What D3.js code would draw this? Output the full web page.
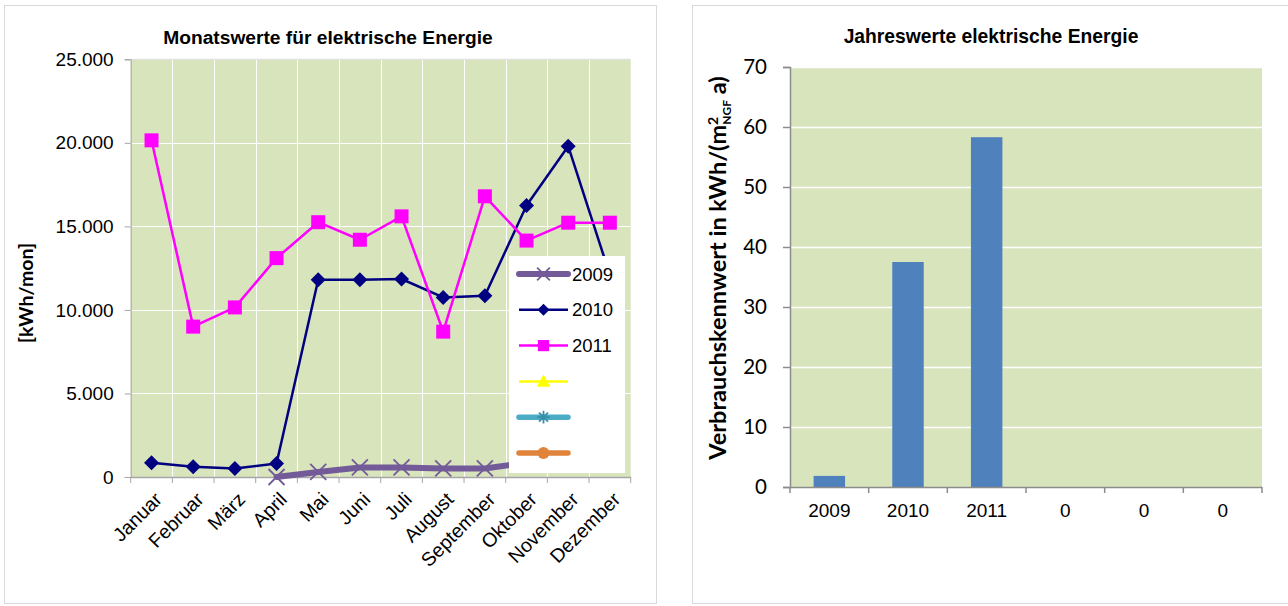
<!DOCTYPE html>
<html>
<head>
<meta charset="utf-8">
<script src="https://cdn.jsdelivr.net/npm/d3@7"></script>
<style>
  body { margin: 0; background: #fff; }
  svg { display: block; }
</style>
</head>
<body>
<svg id="chart" width="1288" height="606"></svg>
<script>
// ---- monthly values (kWh per month) ----
const months = ["Januar", "Februar", "März", "April", "Mai", "Juni", "Juli",
                "August", "September", "Oktober", "November", "Dezember"];
const values2009 = [null, null, null, 0, 305, 570, 570, 510, 510, 850, 1000, 1000];
const values2010 = [850, 610, 510, 810, 11800, 11800, 11850, 10750, 10850, 16250, 19800, 12100];
const values2011 = [20150, 9000, 10150, 13100, 15250, 14200, 15600, 8700, 16800, 14150, 15220, 15220];
const monthTicks = [0, 5000, 10000, 15000, 20000, 25000];
const legendNames = ["2009", "2010", "2011", "", "", ""];

// ---- yearly index values (kWh per m² NGF and year) ----
const yearLabels = ["2009", "2010", "2011", "0", "0", "0"];
const yearValues = [1.85, 37.5, 58.3, 0, 0, 0];
const yearTicks = [0, 10, 20, 30, 40, 50, 60, 70];

const svg = d3.select("#chart");
const PLOT_BG = "#d8e4bc";
const AXIS_GREY = "#a6a6a6";
const ARIAL = "'Liberation Sans', Arial, sans-serif";
const CALIBRI = "Lato, 'Open Sans', sans-serif";

const de = d3.formatLocale({ decimal: ",", thousands: ".", grouping: [3], currency: ["", " €"] });
const fmtThousands = de.format(",.0f");

// chart frames
svg.append("rect").attr("x", 4.5).attr("y", 5.5).attr("width", 652).attr("height", 598)
  .attr("fill", "#fff").attr("stroke", "#d9d9d9");
svg.append("rect").attr("x", 692.5).attr("y", 5.5).attr("width", 600).attr("height", 598)
  .attr("fill", "#fff").attr("stroke", "#d9d9d9");

// ================= monthly line chart =================
const L = { left: 130.7, right: 630.7, top: 59.3, bottom: 477 };
const xL = d3.scaleBand().domain(months).range([L.left, L.right]).padding(0);
const yL = d3.scaleLinear().domain([0, 25000]).range([L.bottom, L.top]);
const cx = m => xL(m) + xL.bandwidth() / 2;

const gL = svg.append("g");
gL.append("rect").attr("x", L.left).attr("y", L.top)
  .attr("width", L.right - L.left).attr("height", L.bottom - L.top).attr("fill", PLOT_BG);

// white grid
gL.selectAll("line.hgrid").data(monthTicks.slice(1)).join("line")
  .attr("x1", L.left).attr("x2", L.right)
  .attr("y1", d => Math.round(yL(d)) + 0.5).attr("y2", d => Math.round(yL(d)) + 0.5)
  .attr("stroke", "#fff").attr("stroke-width", 1);
gL.selectAll("line.vgrid").data(months.slice(1)).join("line")
  .attr("x1", d => Math.round(xL(d)) + 0.5).attr("x2", d => Math.round(xL(d)) + 0.5)
  .attr("y1", L.top).attr("y2", L.bottom)
  .attr("stroke", "#fff").attr("stroke-width", 1);
gL.append("line").attr("x1", L.left).attr("x2", L.right).attr("y1", L.top).attr("y2", L.top)
  .attr("stroke", "#d9d9d9");

// y axis
const axL = gL.append("g").attr("transform", `translate(${L.left},0)`)
  .call(d3.axisLeft(yL).tickValues(monthTicks).tickSize(6).tickPadding(11).tickFormat(fmtThousands));
axL.select(".domain").attr("stroke", AXIS_GREY);
axL.selectAll(".tick line").attr("stroke", AXIS_GREY);
axL.selectAll(".tick text").attr("font-family", ARIAL).attr("font-size", 19).attr("fill", "#000");

// x axis: ticks between categories
const boundaries = months.map(m => xL(m)).concat([L.right]);
gL.append("line").attr("x1", L.left).attr("x2", L.right)
  .attr("y1", L.bottom + 0.5).attr("y2", L.bottom + 0.5).attr("stroke", AXIS_GREY).attr("stroke-width", 1.5);
gL.selectAll("line.xtick").data(boundaries).join("line")
  .attr("x1", d => d).attr("x2", d => d)
  .attr("y1", L.bottom).attr("y2", L.bottom + 6).attr("stroke", AXIS_GREY);
gL.selectAll("text.xlab").data(months).join("text")
  .attr("transform", d => `translate(${cx(d) + 2},${L.bottom + 14}) rotate(-45)`)
  .attr("text-anchor", "end").attr("dy", "0.7em")
  .attr("font-family", ARIAL).attr("font-size", 19.5).attr("fill", "#000")
  .text(d => d);

// y axis title
gL.append("text")
  .attr("transform", `translate(33,293) rotate(-90)`)
  .attr("text-anchor", "middle")
  .attr("font-family", CALIBRI).attr("font-weight", "bold").attr("font-size", 19.5).attr("fill", "#000")
  .text("[kWh/mon]");

// title
svg.append("text").attr("x", 328).attr("y", 44).attr("text-anchor", "middle")
  .attr("font-family", ARIAL).attr("font-weight", "bold").attr("font-size", 19.2)
  .text("Monatswerte für elektrische Energie");

// marker shapes
const markers = {
  cross: s => `M${-s},${-s}L${s},${s}M${-s},${s}L${s},${-s}`,
  diamond: s => `M0,${-s}L${s},0L0,${s}L${-s},0Z`,
  square: s => `M${-s},${-s}H${s}V${s}H${-s}Z`,
  triangle: s => `M0,${-s}L${s},${s * 0.8}L${-s},${s * 0.8}Z`,
  star: s => `M${-s},0H${s}M${-s * 0.7},${-s * 0.7}L${s * 0.7},${s * 0.7}M${-s * 0.7},${s * 0.7}L${s * 0.7},${-s * 0.7}M0,${-s}V${s}`,
  circle: s => `M${-s},0A${s},${s} 0 1,0 ${s},0A${s},${s} 0 1,0 ${-s},0Z`
};

const series = [
  { name: legendNames[0], values: values2009, color: "#735a98", width: 6, marker: "cross", size: 8, fillMarker: false, markerWidth: 1.8 },
  { name: legendNames[1], values: values2010, color: "#000080", width: 2.5, marker: "diamond", size: 7.5, fillMarker: true },
  { name: legendNames[2], values: values2011, color: "#ff00ff", width: 2.5, marker: "square", size: 7, fillMarker: true },
  { name: legendNames[3], values: null, color: "#ffff00", width: 2.5, marker: "triangle", size: 8.5, fillMarker: true },
  { name: legendNames[4], values: null, color: "#4bacc6", width: 5.5, marker: "star", size: 8, fillMarker: false, markerColor: "#3a8fa8", markerWidth: 1.8 },
  { name: legendNames[5], values: null, color: "#e0843c", width: 5.5, marker: "circle", size: 7.5, fillMarker: true }
];

const line = d3.line()
  .defined(d => d.v !== null)
  .x(d => cx(d.m)).y(d => yL(d.v));

series.filter(s => s.values).forEach(s => {
  const pts = months.map((m, i) => ({ m, v: s.values[i] }));
  gL.append("path").datum(pts)
    .attr("d", line).attr("fill", "none")
    .attr("stroke", s.color).attr("stroke-width", s.width)
    .attr("stroke-linejoin", "round").attr("stroke-linecap", "round");
  gL.selectAll(null).data(pts.filter(p => p.v !== null)).join("path")
    .attr("transform", p => `translate(${cx(p.m)},${yL(p.v)})`)
    .attr("d", markers[s.marker](s.size))
    .attr("fill", s.fillMarker ? (s.markerColor || s.color) : "none")
    .attr("stroke", s.markerColor || s.color)
    .attr("stroke-width", s.fillMarker ? 0 : s.markerWidth);
});

// legend
const lg = gL.append("g");
lg.append("rect").attr("x", 509).attr("y", 256).attr("width", 116).attr("height", 217).attr("fill", "#fff");
series.forEach((s, i) => {
  const y = 274 + i * 35.8;
  lg.append("line").attr("x1", 519).attr("x2", 568).attr("y1", y).attr("y2", y)
    .attr("stroke", s.color).attr("stroke-width", s.width)
    .attr("stroke-linecap", s.width > 3 ? "round" : "butt");
  lg.append("path").attr("transform", `translate(543.5,${y})`)
    .attr("d", markers[s.marker](s.size * 0.8))
    .attr("fill", s.fillMarker ? (s.markerColor || s.color) : "none")
    .attr("stroke", s.markerColor || s.color)
    .attr("stroke-width", s.fillMarker ? 0 : (s.markerWidth || 1.5));
  lg.append("text").attr("x", 572).attr("y", y).attr("dy", "0.36em")
    .attr("font-family", ARIAL).attr("font-size", 18.5).attr("fill", "#000")
    .text(s.name);
});

// ================= yearly bar chart =================
const R = { left: 790, right: 1262, top: 67, bottom: 487 };
const xR = d3.scaleBand().domain(d3.range(yearLabels.length)).range([R.left, R.right]).padding(0);
const yR = d3.scaleLinear().domain([0, 70]).range([R.bottom, R.top]);
const gR = svg.append("g");

gR.append("rect").attr("x", R.left).attr("y", R.top)
  .attr("width", R.right - R.left).attr("height", R.bottom - R.top).attr("fill", PLOT_BG);
gR.selectAll("line.hgrid").data(yearTicks.slice(1)).join("line")
  .attr("x1", R.left).attr("x2", R.right)
  .attr("y1", d => Math.round(yR(d)) + 0.5).attr("y2", d => Math.round(yR(d)) + 0.5)
  .attr("stroke", "#fff").attr("stroke-width", 1.5);

// bars
const barW = xR.bandwidth() * 0.4;
gR.selectAll("rect.bar").data(yearValues).join("rect")
  .attr("x", (d, i) => xR(i) + (xR.bandwidth() - barW) / 2)
  .attr("y", d => yR(d))
  .attr("width", barW)
  .attr("height", d => yR(0) - yR(d))
  .attr("fill", "#4f81bd");

// y axis
const axR = gR.append("g").attr("transform", `translate(${R.left},0)`)
  .call(d3.axisLeft(yR).tickValues(yearTicks).tickSize(7).tickPadding(16));
axR.select(".domain").attr("stroke", "#8c8c8c").attr("stroke-width", 1.5);
axR.selectAll(".tick line").attr("stroke", "#8c8c8c").attr("stroke-width", 1.5);
axR.selectAll(".tick text").attr("font-family", CALIBRI).attr("font-size", 20.5).attr("fill", "#000");

// x axis
gR.append("line").attr("x1", R.left).attr("x2", R.right)
  .attr("y1", R.bottom + 0.5).attr("y2", R.bottom + 0.5).attr("stroke", "#8c8c8c").attr("stroke-width", 1.5);
gR.selectAll("line.xtick").data(d3.range(yearLabels.length + 1)).join("line")
  .attr("x1", i => R.left + i * xR.step()).attr("x2", i => R.left + i * xR.step())
  .attr("y1", R.bottom).attr("y2", R.bottom + 6).attr("stroke", "#8c8c8c").attr("stroke-width", 1.5);
gR.selectAll("text.xlab").data(yearLabels).join("text")
  .attr("x", (d, i) => xR(i) + xR.bandwidth() / 2).attr("y", 517)
  .attr("text-anchor", "middle")
  .attr("font-family", ARIAL).attr("font-size", 19).attr("fill", "#000")
  .text(d => d);

// y axis title with stacked superscript and subscript
const yt = gR.append("text")
  .attr("transform", "translate(726,268) rotate(-90)")
  .attr("text-anchor", "middle")
  .attr("font-family", CALIBRI).attr("font-weight", "bold").attr("font-size", 23.5).attr("fill", "#000");
yt.append("tspan").text("Verbrauchskennwert in kWh/(m");
yt.append("tspan").attr("dy", -8).attr("font-size", 14).text("2");
yt.append("tspan").attr("dy", 13).attr("dx", -8).attr("font-size", 12).text("NGF");
yt.append("tspan").attr("dy", -5).text(" a)");

// title
svg.append("text").attr("x", 991).attr("y", 43).attr("text-anchor", "middle")
  .attr("font-family", ARIAL).attr("font-weight", "bold").attr("font-size", 19.3)
  .text("Jahreswerte elektrische Energie");
</script>
</body>
</html>
